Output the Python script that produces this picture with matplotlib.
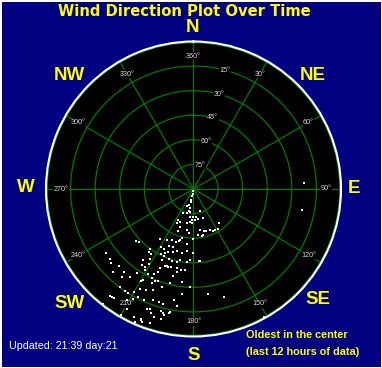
import numpy as np
import matplotlib
matplotlib.use('Agg')
import matplotlib.pyplot as plt

plt.rcParams['font.family'] = ['Liberation Sans', 'DejaVu Sans']

# 풍향(도)과 시간(0=가장 오래된 것, 12=최근)
direction = [180, 188, 190, 191, 192, 194, 199, 190, 193, 196, 203, 188,
             164, 174, 180, 187, 183, 177, 171, 162,
             206, 206, 202, 191, 186, 183, 200,
             143, 148, 152, 155, 158, 163, 166, 171, 168, 170, 174,
             200, 189, 186,
             214, 207, 203, 198, 195, 193, 196, 187, 180, 228, 226,
             209, 206, 203, 199, 202, 198, 195, 190, 186, 180, 216, 215, 213, 207, 204,
             234, 230, 228, 224, 215, 214, 212, 211, 212, 204, 204, 199, 197, 193, 191,
             185, 183, 175, 176, 199, 196, 192, 189, 186,
             224, 220, 214, 211, 208, 205, 203, 203, 200, 198, 191, 193,
             219, 216, 210, 209, 205, 203, 201, 204, 194, 187, 182,
             217, 214, 212, 210, 208, 205, 202, 198, 186, 172, 164,
             218, 217, 216, 211, 209, 207, 204, 197, 190, 188, 195, 200,
             218, 210, 209, 205, 202, 201, 199, 197, 195, 194, 193, 191, 191, 194,
             198, 204, 202, 201, 200,
             151, 87, 101]
hours = [0.2, 0.4, 0.6, 0.9, 1.1, 1.35, 1.5, 1.6, 1.8, 2.0, 2.1, 1.9,
         1.9, 2.3, 2.3, 2.3, 2.5, 2.5, 2.5, 2.5,
         2.8, 3.1, 2.9, 2.8, 2.7, 2.8, 3.3,
         3.5, 3.8, 3.8, 3.8, 3.6, 3.6, 3.5, 3.4, 3.8, 3.9, 3.8,
         3.6, 3.4, 3.6,
         4.9, 4.7, 4.5, 4.5, 4.3, 4.1, 4.4, 4.5, 4.1, 6.3, 6.2,
         5.4, 5.4, 5.0, 5.0, 5.5, 5.4, 5.2, 5.3, 5.1, 5.2, 6.0, 6.3, 6.3, 5.9, 5.7,
         8.8, 8.9, 9.0, 8.7, 7.1, 7.5, 7.5, 7.1, 6.7, 6.3, 6.0, 6.0, 6.1, 6.1, 5.9,
         6.0, 5.8, 5.9, 5.9, 6.6, 6.6, 6.6, 6.7, 6.6,
         9.4, 8.8, 8.2, 7.7, 7.8, 7.6, 7.3, 7.0, 6.7, 6.7, 6.9, 7.3,
         9.2, 8.8, 8.6, 8.5, 8.0, 8.1, 8.0, 8.4, 7.9, 7.6, 8.0,
         10.0, 10.0, 10.0, 9.7, 9.2, 9.1, 8.9, 8.4, 8.6, 8.6, 9.1,
         11.0, 11.0, 11.0, 10.5, 10.2, 9.9, 9.9, 9.6, 9.2, 9.6, 9.7, 9.6,
         11.9, 11.8, 11.2, 11.5, 11.4, 11.6, 10.7, 10.9, 10.3, 10.4, 10.5, 10.3, 10.2, 10.9,
         11.5, 11.8, 11.5, 10.5, 10.4,
         11.9, 9.0, 9.0]

spoke_deg = [0, 30, 60, 90, 120, 150, 180, 210, 240, 270, 300, 330]
spoke_labels = ['360°', '30°', '60°', '90°', '120°', '150°', '180°', '210°', '240°', '270°', '300°', '330°']
ring_r = [10, 8, 6, 4, 2]
ring_labels = ['15°', '30°', '45°', '60°', '75°']
compass = ['N', 'NE', 'E', 'SE', 'S', 'SW', 'W', 'NW']
compass_xy = [(193, 27), (313, 76), (354, 188), (318, 300), (194, 356), (70, 303), (26, 187), (69, 76)]

W, H = 382, 368
navy = '#000080'
green = '#007A00'
yellow = '#FFFF00'

fig = plt.figure(figsize=(W / 100, H / 100), dpi=100, facecolor=navy)
fig.patch.set_edgecolor('white')
fig.patch.set_linewidth(2)

cx, cy, R = 193.5, 189, 147.5
ax = fig.add_axes([(cx - R) / W, (H - cy - R) / H, 2 * R / W, 2 * R / H], projection='polar')
ax.set_facecolor('black')
ax.set_theta_zero_location('N')
ax.set_theta_direction(-1)
ax.set_ylim(0, 12)
ax.set_xticks([])
ax.set_yticks([])
ax.grid(False)
ax.spines['polar'].set_color('white')
ax.spines['polar'].set_linewidth(1.5)

th = np.linspace(0, 2 * np.pi, 361)
for r in ring_r + [11.9]:
    ax.plot(th, np.full_like(th, r), color=green, lw=0.9, zorder=1)
for d in spoke_deg:
    ax.plot([0, np.deg2rad(d)], [0, 12], color=green, lw=0.9, zorder=1)

for d, lab in zip(spoke_deg, spoke_labels):
    ax.text(np.deg2rad(d), 10.8, lab, color='#D8D8D8', fontsize=5.2, ha='center', va='center',
            zorder=3, bbox=dict(facecolor='black', edgecolor='none', pad=0.3))
for r, lab in zip(ring_r, ring_labels):
    ax.text(np.deg2rad(15), r, lab, color='#D8D8D8', fontsize=5.2, ha='center', va='center',
            zorder=3, bbox=dict(facecolor='black', edgecolor='none', pad=0.3))

ax.plot(np.deg2rad(direction), hours, 's', color='white', markersize=2.1, mew=0, zorder=4)

fig.text(184 / W, 1 - 11 / H, 'Wind Direction Plot Over Time', color=yellow, fontsize=10.6,
         fontweight='bold', family='DejaVu Sans', ha='center', va='center')
for lab, (x, y) in zip(compass, compass_xy):
    fig.text(x / W, 1 - y / H, lab, color=yellow, fontsize=13.5, fontweight='bold',
             ha='center', va='center')

fig.text(9 / W, 1 - 346 / H, 'Updated: 21:39 day:21', color='white', fontsize=7.7, ha='left', va='center')
fig.text(246 / W, 1 - 335 / H, 'Oldest in the center', color=yellow, fontsize=7.8,
         fontweight='bold', ha='left', va='center')
fig.text(246 / W, 1 - 352 / H, '(last 12 hours of data)', color=yellow, fontsize=7.8,
         fontweight='bold', ha='left', va='center')

fig.savefig('out.png', dpi=100, facecolor=navy, edgecolor='white')
